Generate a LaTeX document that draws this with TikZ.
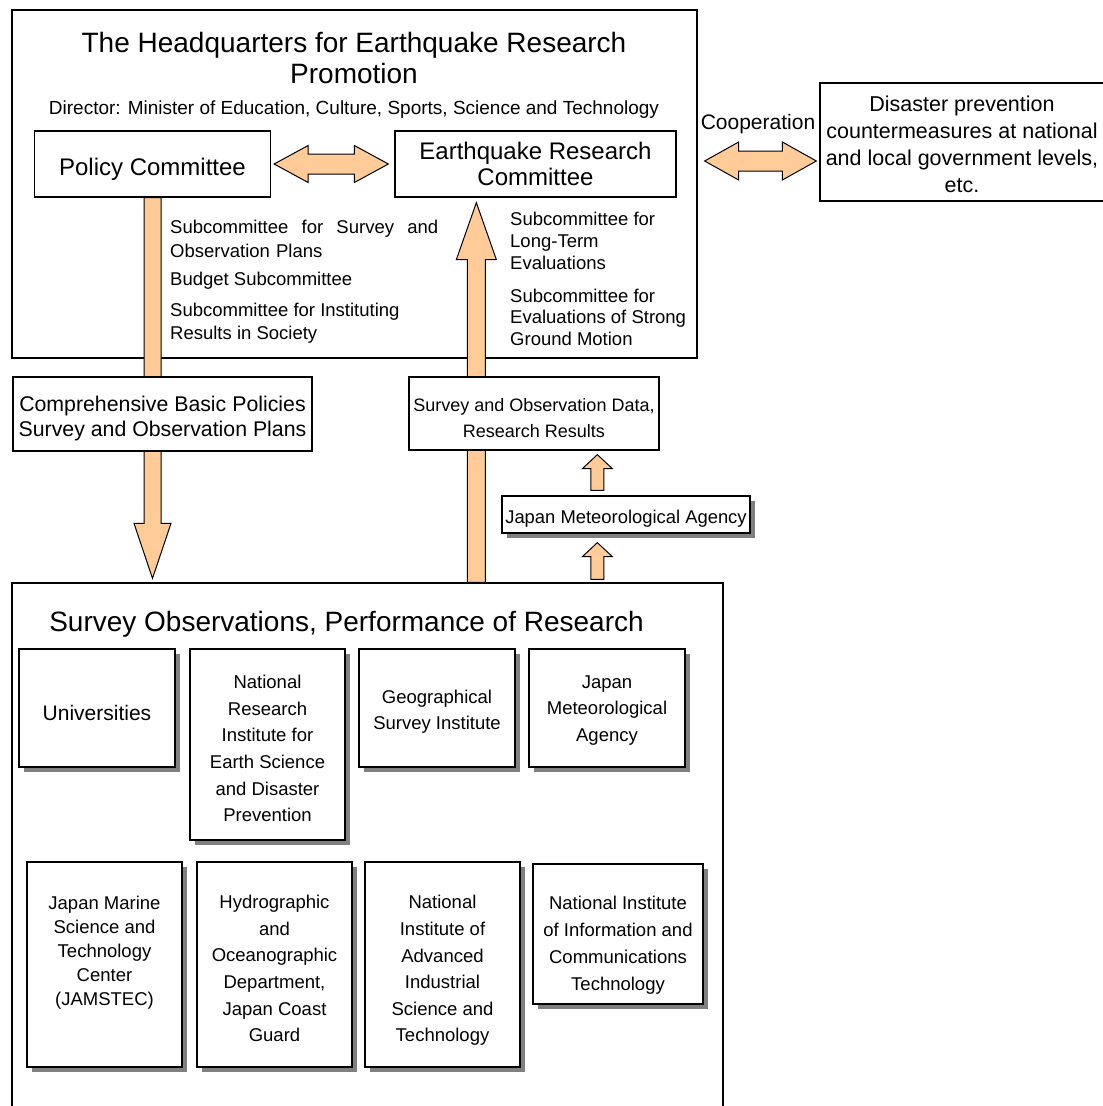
\documentclass[tikz,border=0pt]{standalone}
\usepackage{fontspec}
\setmainfont{Liberation Sans}
\usepackage{xcolor}
\usetikzlibrary{calc,shadows}
\definecolor{peach}{RGB}{255,204,153}
\definecolor{shadowgray}{RGB}{128,128,128}
\newcommand{\fsz}[2]{\fontsize{#1}{#2}\selectfont}
% pushes the lines of a box down by half of #1
\newcommand{\lowr}[1]{\rule{0pt}{\dimexpr0.73em+#1\relax}}

\tikzset{
  outerframe/.style={draw, line width=1.3pt, inner sep=0pt},
  plainbox/.style={draw, line width=1.3pt, fill=white, align=center, inner sep=0pt},
  shadowbox/.style={plainbox, drop shadow={shadow xshift=5pt, shadow yshift=-5pt, fill=shadowgray, opacity=1}},
  instbox/.style={shadowbox, line width=1.8pt},
  blockarrow/.style={draw, fill=peach, line width=1pt, line join=miter},
  % #1 half shaft, #2 half head, #3 head length (negative when pointing down)
  vfat/.style n args={3}{to path={let \p1=(\tikztostart), \p2=(\tikztotarget), \n1={#3} in
    (\x1-#1pt,\y1) -- (\x1-#1pt,\y2-\n1) -- (\x1-#2pt,\y2-\n1) -- (\x1,\y2)
    -- (\x1+#2pt,\y2-\n1) -- (\x1+#1pt,\y2-\n1) -- (\x1+#1pt,\y1) -- cycle}},
  hfat/.style n args={3}{to path={let \p1=(\tikztostart), \p2=(\tikztotarget) in
    (\x1,\y1) -- (\x1+#3pt,\y1+#2pt) -- (\x1+#3pt,\y1+#1pt) -- (\x2-#3pt,\y1+#1pt)
    -- (\x2-#3pt,\y1+#2pt) -- (\x2,\y1) -- (\x2-#3pt,\y1-#2pt) -- (\x2-#3pt,\y1-#1pt)
    -- (\x1+#3pt,\y1-#1pt) -- (\x1+#3pt,\y1-#2pt) -- cycle}}
}

\begin{document}
\begin{tikzpicture}[x=1pt,y=-1pt]
\useasboundingbox (0,0) rectangle (1103,1106);
% headquarters
\node[outerframe, minimum width=685, minimum height=348] (hq) at (354.5,184) {};
\node[font=\fsz{28}{31}, align=center] (hqtitle) at (354,57.5) {The Headquarters for Earthquake Research\\Promotion};
\node[font=\fsz{19}{22}] (director) at (354,110) {Director: Minister of Education, Culture, Sports, Science and Technology};
\node[plainbox, minimum width=236, minimum height=66, font=\fsz{24}{26}] (policy) at (152.5,164) {\lowr{10pt}Policy Committee};
\node[plainbox, minimum width=281, minimum height=66, font=\fsz{24}{26}] (erc) at (535.5,164) {Earthquake Research\\Committee};
\node[plainbox, minimum width=284, minimum height=118, font=\fsz{21.5}{27}] (govt) at (962,142) {\lowr{4pt}Disaster prevention\\countermeasures at national\\and local government levels,\\etc.};
\node[font=\fsz{21}{24}] (coop) at (758,124) {Cooperation};

% survey and research
\node[outerframe, minimum width=711, minimum height=540] (survey) at (367.5,853) {};
\node[font=\fsz{28}{31}] (surveytitle) at (346.5,624) {Survey Observations, Performance of Research};
\node[instbox, minimum width=156, minimum height=118, font=\fsz{21}{24}] (univ) at (97,708) {\lowr{10pt}Universities};
\node[instbox, minimum width=155, minimum height=191, font=\fsz{18.5}{26.6}] (nied) at (267.5,744.5) {\lowr{8pt}National\\Research\\Institute for\\Earth Science\\and Disaster\\Prevention};
\node[instbox, minimum width=156, minimum height=118, font=\fsz{18.5}{26}] (gsi) at (437,708) {\lowr{8pt}Geographical\\Survey Institute};
\node[instbox, minimum width=156, minimum height=118, font=\fsz{18.5}{26.6}] (jmainst) at (607,708) {\lowr{4pt}Japan\\Meteorological\\Agency};
\node[instbox, minimum width=155, minimum height=205, font=\fsz{18.5}{24}] (jamstec) at (104.5,964.5) {\lowr{3pt}Japan Marine\\Science and\\Technology\\Center\\(JAMSTEC)\\\strut};
\node[instbox, minimum width=155, minimum height=205, font=\fsz{18.5}{26.6}] (hydro) at (274.5,964.5) {\lowr{8pt}Hydrographic\\and\\Oceanographic\\Department,\\Japan Coast\\Guard};
\node[instbox, minimum width=155, minimum height=205, font=\fsz{18.5}{26.6}] (aist) at (442.5,964.5) {\lowr{12pt}National\\Institute of\\Advanced\\Industrial\\Science and\\Technology};
\node[instbox, minimum width=170, minimum height=140, font=\fsz{18.5}{27}] (nict) at (618,934) {\lowr{22pt}National Institute\\of Information and\\Communications\\Technology};

% block arrows
\draw[blockarrow, hfat={10}{18.5}{34}] ($(policy.east)+(3,0)$) to ($(erc.west)+(-6,0)$);
\draw[blockarrow, hfat={10}{19}{34}] ($(hq.east)+(7,-23)$) to ($(govt.west)+(-3,19)$);
\draw[blockarrow, vfat={8.5}{18.5}{-55pt}] (policy.south) to ($(policy.south |- survey.north)+(0,-4)$);
\coordinate (upfoot) at ($(survey.north west)+(465,0)$);
\draw[blockarrow, vfat={9}{20}{57pt}] (upfoot) to ($(upfoot |- erc.south)+(0,5)$);

\node[plainbox, minimum width=299, minimum height=74, font=\fsz{21.3}{25}] (plans) at (162.5,414) {\lowr{8pt}Comprehensive Basic Policies\\Survey and Observation Plans};
\node[plainbox, minimum width=250, minimum height=73, font=\fsz{18}{26}] (data) at (534,413.5) {\lowr{10pt}Survey and Observation Data,\\Research Results};
\node[shadowbox, minimum width=248, minimum height=37, font=\fsz{18.4}{20}] (jmalink) at (626,514.5) {\lowr{8pt}Japan Meteorological Agency};
\coordinate (jmaout) at ($(jmalink.north west)+(96,-5)$);
\draw[blockarrow, vfat={6.5}{15}{14pt}] (jmaout) to ($(jmaout |- data.south)+(0,4)$);
\coordinate (jmain) at ($(survey.north west)+(586,-3)$);
\draw[blockarrow, vfat={6.5}{15}{14pt}] (jmain) to ($(jmain |- jmalink.south)+(0,9)$);

% subcommittees
\node[anchor=west, inner sep=0pt, text width=268pt, align=left, font=\fsz{18.5}{24}] (subplans) at (170,239) {Subcommittee\hfill for\hfill Survey\hfill and\\Observation Plans};
\node[anchor=west, inner sep=0pt, font=\fsz{18.5}{24}] (subbudget) at (170,281) {Budget Subcommittee};
\node[anchor=west, inner sep=0pt, align=left, font=\fsz{18.5}{23}] (subsociety) at (170,323.5) {Subcommittee for Instituting\\Results in Society};
\node[anchor=west, inner sep=0pt, align=left, font=\fsz{18.5}{22}] (sublong) at (510,241) {Subcommittee for\\Long-Term\\Evaluations};
\node[anchor=west, inner sep=0pt, align=left, font=\fsz{18.5}{21.5}] (substrong) at (510,317) {Subcommittee for\\Evaluations of Strong\\Ground Motion};
\end{tikzpicture}
\end{document}
